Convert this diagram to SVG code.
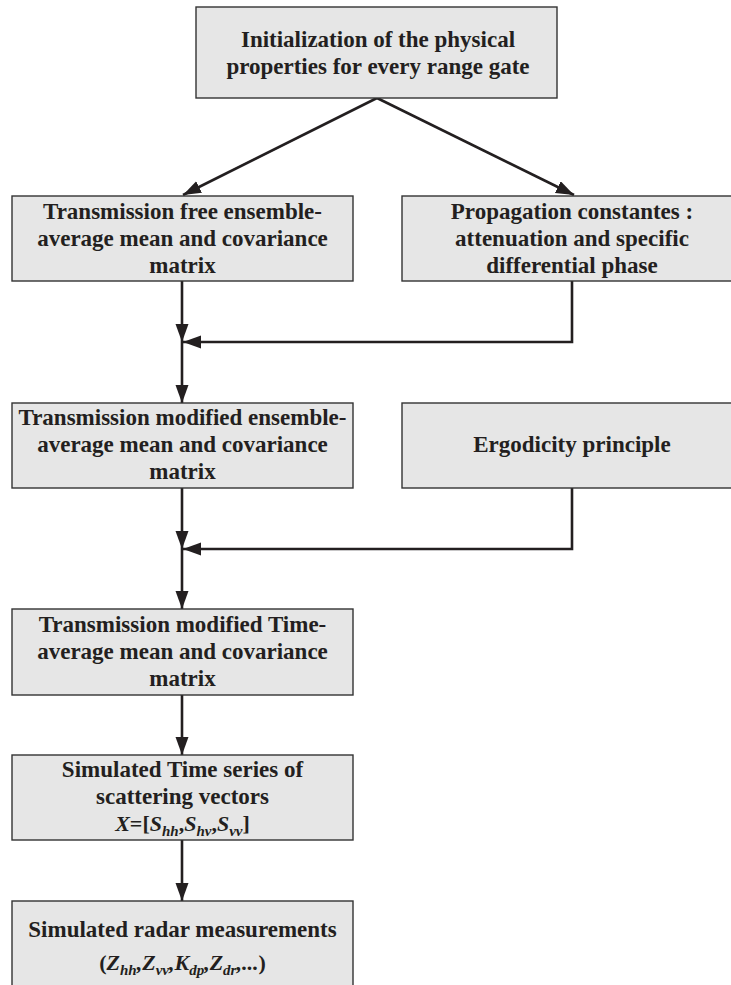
<svg xmlns="http://www.w3.org/2000/svg" width="731" height="985" viewBox="0 0 731 985">
<style>
.box{fill:#e6e6e6;stroke:#333;stroke-width:1.4}
.t{font-family:'Liberation Serif','Tinos','Times New Roman','DejaVu Serif',serif;font-weight:700;font-size:23px;fill:#231f20;text-anchor:middle}
.f{font-size:22px}
.it{font-style:italic}
.c{fill:none;stroke:#231f20;stroke-width:2.6}
</style>
<defs>
<marker id="ah" markerUnits="userSpaceOnUse" markerWidth="20" markerHeight="14" refX="18" refY="6.5" orient="auto">
<path d="M0,0 L18,6.5 L0,13 z" fill="#231f20"/>
</marker>
</defs>
<rect width="731" height="985" fill="#fff"/>
<g id="connectors">
<path class="c" d="M377,98 L183,195" marker-end="url(#ah)"/>
<path class="c" d="M377,98 L574,195" marker-end="url(#ah)"/>
<path class="c" d="M182,281 L182,342" marker-end="url(#ah)"/>
<path class="c" d="M182,342 L182,403" marker-end="url(#ah)"/>
<path class="c" d="M572,281 L572,342 L183,342" marker-end="url(#ah)"/>
<path class="c" d="M182,488 L182,549" marker-end="url(#ah)"/>
<path class="c" d="M182,549 L182,609" marker-end="url(#ah)"/>
<path class="c" d="M572,488 L572,549 L183,549" marker-end="url(#ah)"/>
<path class="c" d="M182,695 L182,755" marker-end="url(#ah)"/>
<path class="c" d="M182,840 L182,901" marker-end="url(#ah)"/>
</g>
<g id="init">
<rect class="box" x="196" y="7" width="361" height="91"/>
<text class="t" x="378" y="47">Initialization of the physical</text>
<text class="t" x="378" y="74">properties for every range gate</text>
</g>
<g id="free">
<rect class="box" x="12" y="196" width="341" height="85"/>
<text class="t" x="182.5" y="219">Transmission free ensemble-</text>
<text class="t" x="182.5" y="246">average mean and covariance</text>
<text class="t" x="182.5" y="273">matrix</text>
</g>
<g id="prop">
<rect class="box" x="402" y="196" width="340" height="85"/>
<text class="t" x="572" y="219">Propagation constantes :</text>
<text class="t" x="572" y="246">attenuation and specific</text>
<text class="t" x="572" y="273">differential phase</text>
</g>
<g id="modens">
<rect class="box" x="12" y="403" width="341" height="85"/>
<text class="t" x="182.5" y="425">Transmission modified ensemble-</text>
<text class="t" x="182.5" y="452">average mean and covariance</text>
<text class="t" x="182.5" y="479">matrix</text>
</g>
<g id="ergo">
<rect class="box" x="402" y="403" width="340" height="85"/>
<text class="t" x="572" y="452">Ergodicity principle</text>
</g>
<g id="modtime">
<rect class="box" x="12" y="609" width="341" height="86"/>
<text class="t" x="182.5" y="632">Transmission modified Time-</text>
<text class="t" x="182.5" y="659">average mean and covariance</text>
<text class="t" x="182.5" y="686">matrix</text>
</g>
<g id="series">
<rect class="box" x="12" y="755" width="341" height="85"/>
<text class="t" x="182.5" y="777">Simulated Time series of</text>
<text class="t" x="182.5" y="804">scattering vectors</text>
<text class="t f" x="182.5" y="831"><tspan class="it">X</tspan>=[<tspan class="it">S</tspan><tspan class="it" font-size="15" dy="5">hh</tspan><tspan dy="-5">,</tspan><tspan class="it">S</tspan><tspan class="it" font-size="15" dy="5">hv</tspan><tspan dy="-5">,</tspan><tspan class="it">S</tspan><tspan class="it" font-size="15" dy="5">vv</tspan><tspan dy="-5">]</tspan></text>
</g>
<g id="radar">
<rect class="box" x="12" y="901" width="341" height="100"/>
<text class="t" x="182.5" y="937">Simulated radar measurements</text>
<text class="t f" x="182.5" y="970">(<tspan class="it">Z</tspan><tspan class="it" font-size="15" dy="5">hh</tspan><tspan class="it" dy="-5">,Z</tspan><tspan class="it" font-size="15" dy="5">vv</tspan><tspan class="it" dy="-5">,K</tspan><tspan class="it" font-size="15" dy="5">dp</tspan><tspan class="it" dy="-5">,Z</tspan><tspan class="it" font-size="15" dy="5">dr</tspan><tspan class="it" dy="-5">,...</tspan>)</text>
</g>
</svg>
